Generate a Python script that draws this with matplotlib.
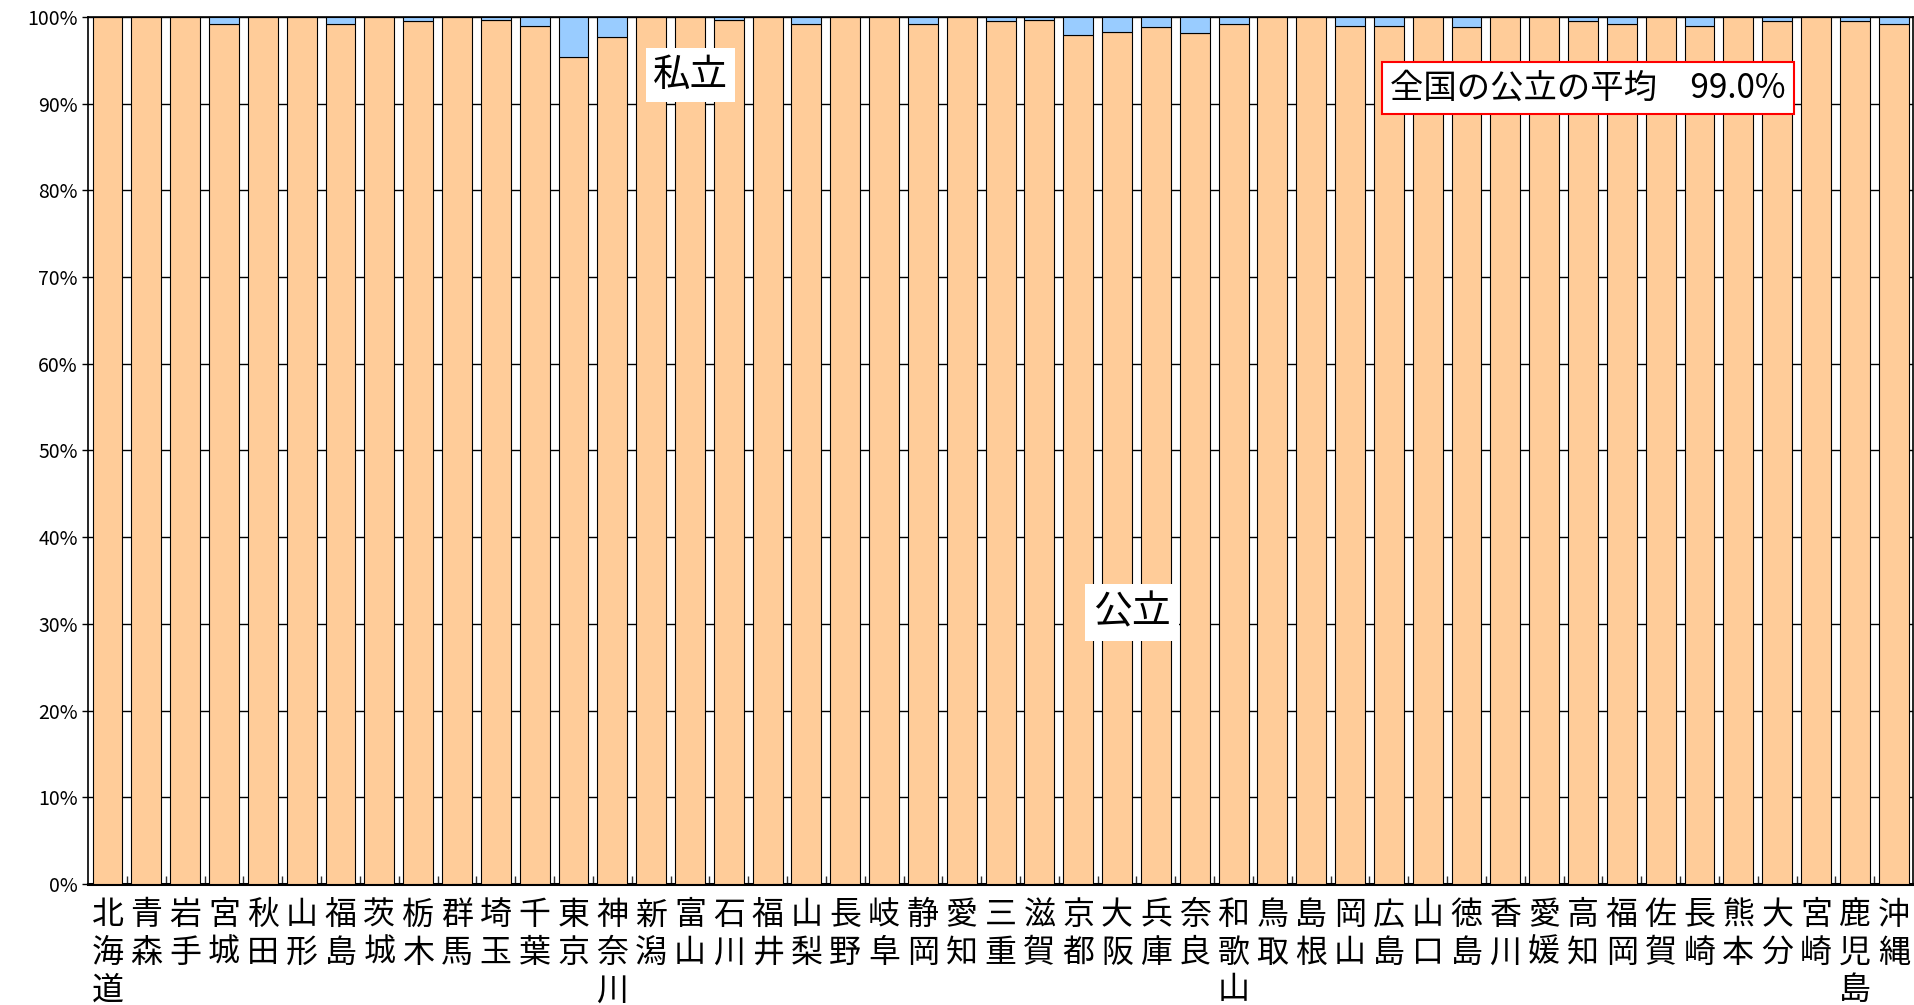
import numpy as np
import matplotlib.pyplot as plt

plt.rcParams['font.family'] = ['Noto Sans CJK JP', 'DejaVu Sans']

# 都道府県別 設置者別の割合(%)
prefectures = ['北海道', '青森', '岩手', '宮城', '秋田', '山形', '福島', '茨城', '栃木', '群馬',
               '埼玉', '千葉', '東京', '神奈川', '新潟', '富山', '石川', '福井', '山梨', '長野',
               '岐阜', '静岡', '愛知', '三重', '滋賀', '京都', '大阪', '兵庫', '奈良', '和歌山',
               '鳥取', '島根', '岡山', '広島', '山口', '徳島', '香川', '愛媛', '高知', '福岡',
               '佐賀', '長崎', '熊本', '大分', '宮崎', '鹿児島', '沖縄']
private_pct = [0.0, 0.0, 0.0, 0.8, 0.0, 0.0, 0.8, 0.0, 0.5, 0.0,
               0.3, 1.0, 4.6, 2.3, 0.0, 0.0, 0.3, 0.0, 0.8, 0.0,
               0.0, 0.8, 0.0, 0.5, 0.3, 2.1, 1.7, 1.2, 1.9, 0.8,
               0.0, 0.0, 1.0, 1.0, 0.0, 1.2, 0.0, 0.0, 0.5, 0.8,
               0.0, 1.0, 0.0, 0.5, 0.0, 0.5, 0.8]
public_pct = [100.0 - p for p in private_pct]
national_public_avg = 99.0

fig = plt.figure(figsize=(19.15, 10.05), dpi=100)
ax = fig.add_axes([0.046, 0.1204, 0.953, 0.8627])

x = np.arange(len(prefectures))
ax.bar(x, public_pct, width=0.77, color='#FFCC99', edgecolor='black', linewidth=0.8, zorder=3)
ax.bar(x, private_pct, bottom=public_pct, width=0.77, color='#99CCFF', edgecolor='black',
       linewidth=0.8, zorder=3)

ax.set_xlim(-0.5, len(prefectures) - 0.5)
ax.set_ylim(0, 100)
ax.set_yticks(np.arange(0, 101, 10))
ax.set_yticklabels([f'{v}%' for v in range(0, 101, 10)], fontsize=14)
ax.yaxis.grid(True, color='black', linewidth=1.0, zorder=0)
ax.set_axisbelow(True)

# 県名は縦書き
ax.set_xticks(x)
ax.set_xticklabels(['\n'.join(name) for name in prefectures], fontsize=23, linespacing=1.22,
                   va='top')
ax.tick_params(axis='x', length=0, pad=11)
ax.set_xticks(x[:-1] + 0.5, minor=True)
ax.tick_params(axis='x', which='minor', direction='in', length=6, width=1.0, color='#333333')
ax.tick_params(axis='y', length=4, width=1.0)

for side in ['left', 'top', 'right']:
    ax.spines[side].set_linewidth(1.2)
ax.spines['bottom'].set_linewidth(2.2)

ax.text(0.330, 0.933, '私立', transform=ax.transAxes, fontsize=27, ha='center', va='center',
        bbox=dict(facecolor='white', edgecolor='none', pad=5), zorder=5)
ax.text(0.572, 0.313, '公立', transform=ax.transAxes, fontsize=28, ha='center', va='center',
        bbox=dict(facecolor='white', edgecolor='none', pad=6), zorder=5)
ax.text(0.822, 0.918, f'全国の公立の平均　{national_public_avg:.1f}%', transform=ax.transAxes,
        fontsize=24, ha='center', va='center',
        bbox=dict(facecolor='white', edgecolor='red', linewidth=1.5, pad=6), zorder=5)

fig.savefig('out.png', dpi=100)
